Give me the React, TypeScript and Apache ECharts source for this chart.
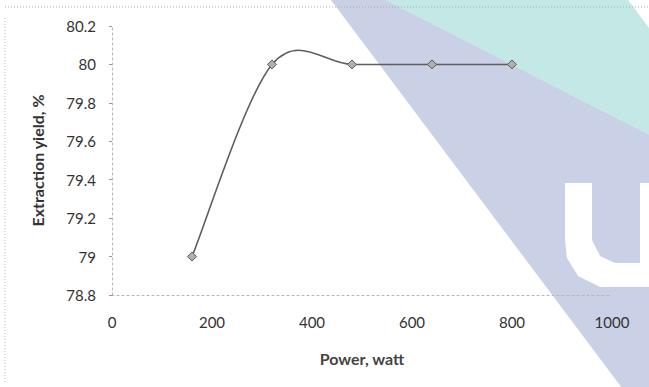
import React, { useEffect, useRef } from "react";
import * as echarts from "echarts";

const powerWatt = [160, 320, 480, 640, 800];
const extractionYield = [79.0, 80.0, 80.0, 80.0, 80.0];
const xTicks = [0, 200, 400, 600, 800, 1000];
const yTicks = [78.8, 79, 79.2, 79.4, 79.6, 79.8, 80, 80.2];

const FONT = "Lato, 'Open Sans', sans-serif";

export default function App() {
  const ref = useRef<HTMLDivElement>(null);

  useEffect(() => {
    if (!ref.current) return;
    const chart = echarts.init(ref.current, undefined, { renderer: "svg" });
    const blue = "#cad0e6";
    const teal = "#c4e8e6";

    const renderItem = (params: any, api: any) => {
      const i = params.dataIndex;
      const n = powerWatt.length;
      const pts = powerWatt.map((x, k) => api.coord([x, extractionYield[k]]));
      const children: any[] = [];
      if (i < n - 1) {
        const p0 = pts[i - 1] || pts[i];
        const p1 = pts[i];
        const p2 = pts[i + 1];
        const p3 = pts[i + 2] || pts[i + 1];
        children.push({
          type: "bezierCurve",
          z2: 1,
          shape: {
            x1: p1[0],
            y1: p1[1],
            cpx1: p1[0] + (p2[0] - p0[0]) / 6,
            cpy1: p1[1] + (p2[1] - p0[1]) / 6,
            cpx2: p2[0] - (p3[0] - p1[0]) / 6,
            cpy2: p2[1] - (p3[1] - p1[1]) / 6,
            x2: p2[0],
            y2: p2[1],
          },
          style: { stroke: "#5e5e5e", lineWidth: 1.6, fill: null },
        });
      }
      const [cx, cy] = pts[i];
      const s = 4.5;
      children.push({
        type: "polygon",
        z2: 10,
        shape: { points: [[cx, cy - s], [cx + s, cy], [cx, cy + s], [cx - s, cy]] },
        style: { fill: "#b0b0b0", stroke: "#5a5a5a", lineWidth: 1 },
      });
      return { type: "group", children };
    };

    const option: any = {
      animation: false,
      backgroundColor: "#ffffff",
      graphic: {
        z: 0,
        elements: [
          { type: "polygon", silent: true, shape: { points: [[331, 0], [720, 0], [720, 420], [646, 420]] }, style: { fill: blue } },
          { type: "polygon", silent: true, shape: { points: [[385, 0], [628, 0], [649, 28], [649, 135]] }, style: { fill: teal } },
          { type: "polygon", silent: true, shape: { points: [[628, 0], [649, 0], [649, 28]] }, style: { fill: "#ffffff" } },
          { type: "polygon", silent: true, shape: { points: [[565, 183], [592, 183], [592, 240], [600, 256], [615, 263], [640, 263], [640, 183], [649, 183], [649, 287], [600, 287], [578, 276], [567, 258], [565, 240]] }, style: { fill: "#ffffff" } },
          { type: "line", silent: true, shape: { x1: 5, y1: 7, x2: 649, y2: 7 }, style: { stroke: "#aaaaaa", lineWidth: 1, lineDash: [1, 2] } },
          { type: "line", silent: true, shape: { x1: 5, y1: 18, x2: 5, y2: 382 }, style: { stroke: "#bbbbbb", lineWidth: 1, lineDash: [1, 2] } },
        ],
      },
      grid: { left: 112, right: 37, top: 26, bottom: 92, containLabel: false },
      xAxis: {
        type: "value",
        min: xTicks[0],
        max: xTicks[xTicks.length - 1],
        interval: 200,
        z: 5,
        name: "Power, watt",
        nameLocation: "middle",
        nameGap: 55,
        nameTextStyle: { fontFamily: FONT, fontSize: 16, fontWeight: "bold", color: "#444" },
        axisLine: { show: true, onZero: false, lineStyle: { color: "#b5b5b5", type: [2, 3], width: 1 } },
        axisTick: { show: false },
        splitLine: { show: false },
        axisLabel: { margin: 19, fontFamily: FONT, fontSize: 15, color: "#333", formatter: (v: number) => String(v) },
      },
      yAxis: {
        type: "value",
        min: yTicks[0],
        max: yTicks[yTicks.length - 1],
        interval: 0.2,
        z: 5,
        name: "Extraction yield, %",
        nameLocation: "middle",
        nameGap: 67,
        nameRotate: 90,
        nameTextStyle: { fontFamily: FONT, fontSize: 16, fontWeight: "bold", color: "#333" },
        axisLine: { show: true, onZero: false, lineStyle: { color: "#b5b5b5", type: [2, 3], width: 1 } },
        axisTick: { show: true, length: 3, lineStyle: { color: "#999" } },
        splitLine: { show: false },
        axisLabel: {
          margin: 16,
          fontFamily: FONT,
          fontSize: 15,
          color: "#333",
          formatter: (v: number) => String(Math.round(v * 10) / 10),
        },
      },
      series: [
        {
          type: "custom",
          z: 10,
          renderItem,
          encode: { x: 0, y: 1 },
          data: powerWatt.map((x, i) => [x, extractionYield[i]]),
        },
      ],
    };
    chart.setOption(option);
    return () => chart.dispose();
  }, []);

  return (
    <div
      ref={ref}
      style={{ position: "fixed", left: 0, top: 0, width: 649, height: 387, background: "#fff" }}
    />
  );
}
